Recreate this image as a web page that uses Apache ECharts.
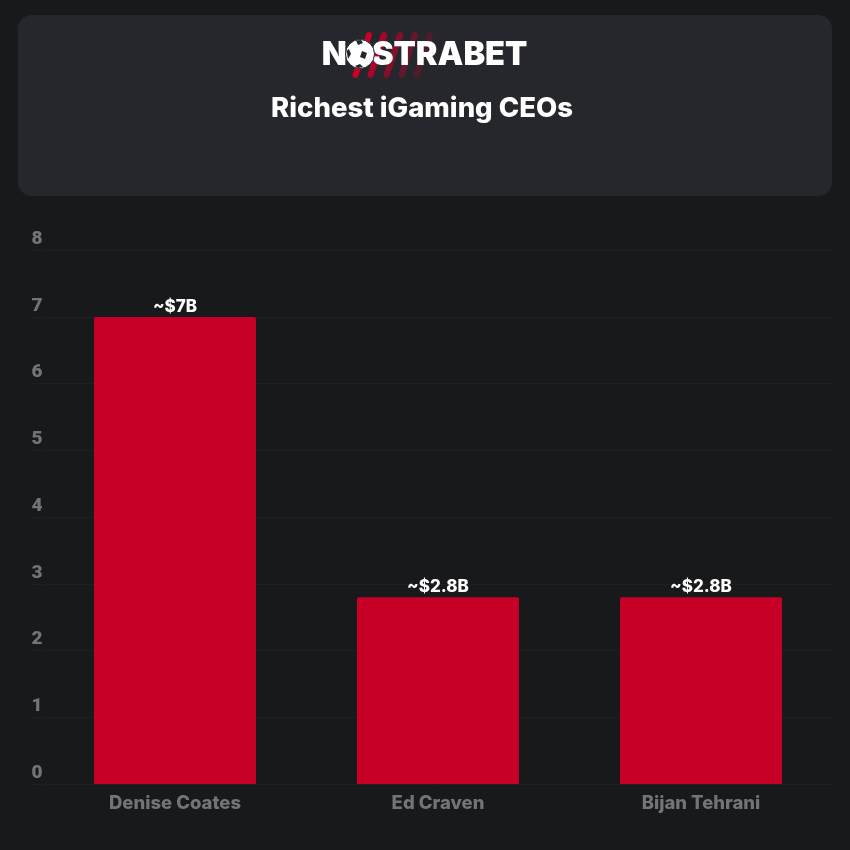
<!DOCTYPE html>
<html>
<head>
<meta charset="utf-8">
<style>
html, body { margin: 0; padding: 0; background: #18191b; }
#chart { width: 850px; height: 850px; }
</style>
<script src="https://cdn.jsdelivr.net/npm/echarts@6/dist/echarts.min.js"></script>
</head>
<body>
<div id="chart"></div>
<script>
const chart_title = 'Richest iGaming CEOs';
const logo_text = 'NOSTRABET';
const categories = ['Denise Coates', 'Ed Craven', 'Bijan Tehrani'];
const net_worth = [7, 2.8, 2.8];
const value_labels = ['~$7B', '~$2.8B', '~$2.8B'];

const bar_red = '#c70028';
const grey_text = '#737477';
const grid_line = '#1e1f22';
const panel_color = '#25272c';
const label_font = 'Inter';

// slanted stripes behind the logo, fading to the right
const stripe_tops = [369, 384, 400, 415, 430];
const stripe_alpha = [1, 0.8, 0.6, 0.4, 0.25];
const logo_parts = stripe_tops.map((x, i) => ({
    type: 'line',
    z: 1,
    shape: {x1: x, y1: 35, x2: x - 13.5, y2: 75},
    style: {stroke: bar_red, lineWidth: 6, lineCap: 'round', opacity: stripe_alpha[i]}
}));

// dark patches of the football in the logo
const ball_patches = [
    [[356, 40.5], [361, 40], [363, 43], [358, 45]],
    [[346.5, 51], [349, 49], [351, 54], [348, 59]],
    [[362, 51], [367, 53], [365, 59], [360, 57]],
    [[355, 66], [360, 64], [363, 67], [358, 68]]
].map((points) => ({
    type: 'polygon',
    z: 4,
    shape: {points: points},
    style: {fill: panel_color}
}));

const my_chart = echarts.init(document.getElementById('chart'), null, {renderer: 'canvas'});
my_chart.setOption({
    backgroundColor: '#18191b',
    animation: false,
    grid: {left: 43.5, right: 17.5, top: 250.3, bottom: 66},
    xAxis: {
        type: 'category',
        data: categories,
        axisLine: {show: true, lineStyle: {color: grid_line}},
        axisTick: {show: false},
        axisLabel: {color: grey_text, fontFamily: label_font, fontWeight: 800, fontSize: 18.5, margin: 10}
    },
    yAxis: {
        type: 'value',
        min: 0,
        max: 8,
        interval: 1,
        axisLine: {show: false},
        axisTick: {show: true, length: 12, lineStyle: {color: grid_line}},
        splitLine: {lineStyle: {color: grid_line}},
        axisLabel: {
            color: grey_text,
            fontFamily: 'Roboto',
            fontWeight: 900,
            fontSize: 19,
            align: 'left',
            verticalAlign: 'bottom',
            margin: 12,
            lineHeight: 20,
            padding: [0, 0, 1, 0]
        }
    },
    series: [{
        type: 'bar',
        data: net_worth,
        barWidth: 162,
        itemStyle: {color: bar_red, borderRadius: [2, 2, 0, 0]},
        label: {
            show: true,
            position: 'top',
            distance: 2,
            color: '#ffffff',
            fontFamily: label_font,
            fontWeight: 800,
            fontSize: 17,
            formatter: (p) => value_labels[p.dataIndex]
        }
    }],
    graphic: {
        elements: [
            {
                type: 'rect',
                z: 0,
                shape: {x: 18, y: 15, width: 814, height: 181, r: 14},
                style: {fill: panel_color}
            },
            ...logo_parts,
            {
                type: 'text',
                z: 2,
                x: 424.5,
                y: 55,
                style: {
                    text: logo_text,
                    fill: '#ffffff',
                    font: '900 32.5px Inter',
                    align: 'center',
                    verticalAlign: 'middle'
                }
            },
            {
                type: 'circle',
                z: 3,
                shape: {cx: 360, cy: 54, r: 14.5},
                style: {fill: '#ffffff', stroke: panel_color, lineWidth: 1}
            },
            ...ball_patches,
            {
                type: 'text',
                z: 2,
                x: 422,
                y: 109,
                style: {
                    text: chart_title,
                    fill: '#ffffff',
                    font: '800 27.5px Inter',
                    align: 'center',
                    verticalAlign: 'middle'
                }
            }
        ]
    }
});
</script>
</body>
</html>
